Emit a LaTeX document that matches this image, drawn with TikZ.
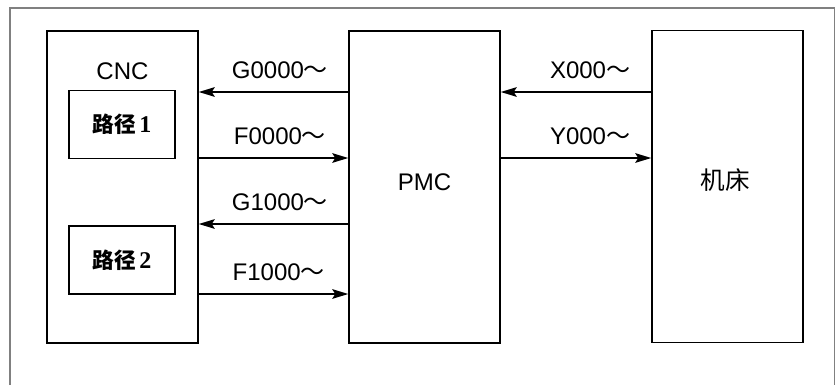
\documentclass[tikz,border=0pt]{standalone}
\usepackage{fontspec}
\setmainfont{Liberation Serif}
\setsansfont{Liberation Sans}
\newfontfamily\cjk{Noto Sans CJK SC}
\usetikzlibrary{arrows.meta}
\begin{document}
\begin{tikzpicture}[x=0.03cm,y=-0.03cm,
	block/.style={draw,line width=1.3pt,minimum width=4.53cm,minimum height=9.36cm,inner sep=0pt},
	pathbox/.style={draw,line width=1.3pt,minimum width=3.18cm,minimum height=2.03cm,inner sep=0pt,font=\fontsize{18.5}{20}\selectfont},
	title/.style={font=\sffamily\fontsize{20.5}{22}\selectfont,inner sep=0pt,text depth=0pt},
	sig/.style={line width=1.3pt,-{Stealth[length=0.48cm,width=0.29cm,inset=0.09cm]}},
	sigl/.style={font=\sffamily\fontsize{20.5}{22}\selectfont,inner sep=0pt,text depth=0pt,above=0.39cm,midway}]
	\useasboundingbox (0,0) rectangle (836,385);
	% outer frame
	\draw[color={rgb,255:red,128; green,128; blue,128},line width=0.9pt] (10,385) -- (10,8) -- (834.5,8) -- (834.5,385);
	% blocks
	\node[block] (cnc) at (122.5,187) {};
	\node[block] (pmc) at (424.5,187) {};
	\node[block] (mt) at (727.5,186.5) {};
	\node[pathbox] (p1) at (122,124.5) {{\cjk\bfseries 路径}\,{\fontsize{20.5}{22}\selectfont\textbf{1}}};
	\node[pathbox] (p2) at (122,260) {{\cjk\bfseries 路径}\,{\fontsize{20.5}{22}\selectfont\textbf{2}}};
	\node[title] (cncl) at (122.5,71.5) {CNC};
	\node[title] (pmcl) at (424.5,182.5) {PMC};
	\node[title,font=\cjk\fontsize{21}{23}\selectfont] (mtl) at (725,179) {机床};
	% signals CNC <-> PMC
	\draw[sig] (pmc.west |- 0,92) -- node[sigl,xshift=5.5] {G0000{\cjk～}} (cnc.east |- 0,92);
	\draw[sig] (cnc.east |- 0,158) -- node[sigl,xshift=5.5] {F0000{\cjk～}} (pmc.west |- 0,158);
	\draw[sig] (pmc.west |- 0,224) -- node[sigl,xshift=5.5] {G1000{\cjk～}} (cnc.east |- 0,224);
	\draw[sig] (cnc.east |- 0,294) -- node[sigl,xshift=4.5] {F1000{\cjk～}} (pmc.west |- 0,294);
	% signals PMC <-> machine
	\draw[sig] (mt.west |- 0,92) -- node[sigl,xshift=12] {X000{\cjk～}} (pmc.east |- 0,92);
	\draw[sig] (pmc.east |- 0,158) -- node[sigl,xshift=12] {Y000{\cjk～}} (mt.west |- 0,158);
\end{tikzpicture}
\end{document}
